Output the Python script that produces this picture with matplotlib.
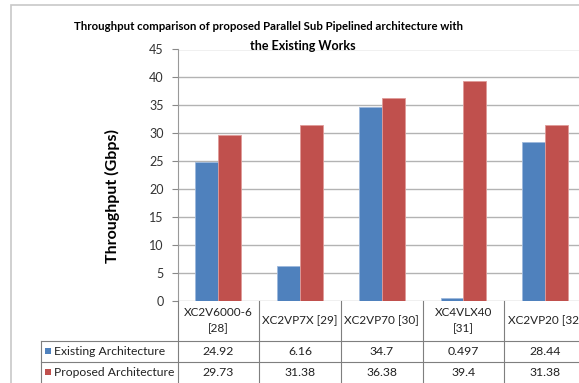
import numpy as np
import matplotlib.pyplot as plt
from matplotlib.lines import Line2D
from matplotlib.patches import Rectangle

plt.rcParams['font.family'] = ['Lato', 'DejaVu Sans']

devices = ['XC2V6000-6\n[28]', 'XC2VP7X [29]', 'XC2VP70 [30]', 'XC4VLX40\n[31]', 'XC2VP20 [32]']
series_names = ['Existing Architecture', 'Proposed Architecture']
existing = [24.92, 6.16, 34.7, 0.497, 28.44]
proposed = [29.73, 31.38, 36.38, 39.4, 31.38]
value_labels = [['24.92', '6.16', '34.7', '0.497', '28.44'],
                ['29.73', '31.38', '36.38', '39.4', '31.38']]
colors = ['#4F81BD', '#C0504D']

W, H = 579, 383
fig = plt.figure(figsize=(W / 100, H / 100), dpi=100)


def fx(px):
    return px / W


def fy(py):
    return 1 - py / H


# plot area (the chart runs past the right edge of the page)
left, right, top, bottom = 177.5, 586, 49.5, 300.5
ax = fig.add_axes([fx(left), fy(bottom), fx(right - left), fy(top) - fy(bottom)])

x = np.arange(len(devices))
bw = 0.28
ax.bar(x - bw / 2, existing, bw, color=colors[0], edgecolor='#9db8dc', linewidth=0.6, zorder=3)
ax.bar(x + bw / 2, proposed, bw, color=colors[1], edgecolor='#e09a98', linewidth=0.6, zorder=3)

ax.set_xlim(-0.5, len(devices) - 0.5)
ax.set_ylim(0, 45)
ax.set_yticks(np.arange(0, 46, 5))
ax.set_xticks([])
ax.yaxis.grid(True, color='#b3b3b3', linewidth=1.0, zorder=0)
ax.tick_params(axis='y', length=4, color='#888888', labelsize=9, labelcolor='#333333', pad=6)
for side in ['top', 'right', 'bottom']:
    ax.spines[side].set_visible(False)
ax.spines['left'].set_color('#999999')

ax.set_ylabel('Throughput (Gbps)', fontsize=11.5, fontweight='bold')
ax.yaxis.set_label_coords((120 - left) / (right - left), (bottom - 196) / (bottom - top))

# title, two centred lines
fig.text(fx(268), fy(26), 'Throughput comparison of proposed Parallel Sub Pipelined architecture with',
         ha='center', va='center', fontsize=8.2, fontweight='bold')
fig.text(fx(303), fy(46), 'the Existing Works', ha='center', va='center', fontsize=9, fontweight='bold')

# outer chart frame
fig.add_artist(Rectangle((fx(11), fy(400)), fx(700), fy(5) - fy(400), fill=False,
                         edgecolor='#c8c8c8', linewidth=1.2))

# data table under the axis
col_w = (right - left) / len(devices)
col_edges = [left + i * col_w for i in range(len(devices) + 1)]
row_top, row_hdr, row_mid, row_bot = 300.5, 341, 362, 383
line_kw = dict(color='#7f7f7f', linewidth=0.8)
for xe in col_edges:
    fig.add_artist(Line2D([fx(xe), fx(xe)], [fy(row_top), fy(row_bot + 5)], **line_kw))
fig.add_artist(Line2D([fx(41), fx(41)], [fy(row_hdr), fy(row_bot + 5)], **line_kw))
for yr in [row_hdr, row_mid]:
    fig.add_artist(Line2D([fx(41), fx(600)], [fy(yr), fy(yr)], **line_kw))

for i, name in enumerate(devices):
    cx = left + (i + 0.5) * col_w
    fig.text(fx(cx), fy((row_top + row_hdr) / 2), name, ha='center', va='center',
             fontsize=8.5, color='#222222', linespacing=1.5)
    for r, yc in enumerate([(row_hdr + row_mid) / 2, (row_mid + row_bot) / 2]):
        fig.text(fx(cx), fy(yc), value_labels[r][i], ha='center', va='center',
                 fontsize=8.8, color='#222222')

for r, yc in enumerate([(row_hdr + row_mid) / 2, (row_mid + row_bot) / 2]):
    fig.add_artist(Rectangle((fx(45), fy(yc + 2)), fx(6), fy(yc - 4) - fy(yc + 2),
                             facecolor=colors[r], edgecolor='none'))
    fig.text(fx(54), fy(yc), series_names[r], ha='left', va='center',
             fontsize=8.7, color='#222222')

fig.savefig('out.png', dpi=100)
